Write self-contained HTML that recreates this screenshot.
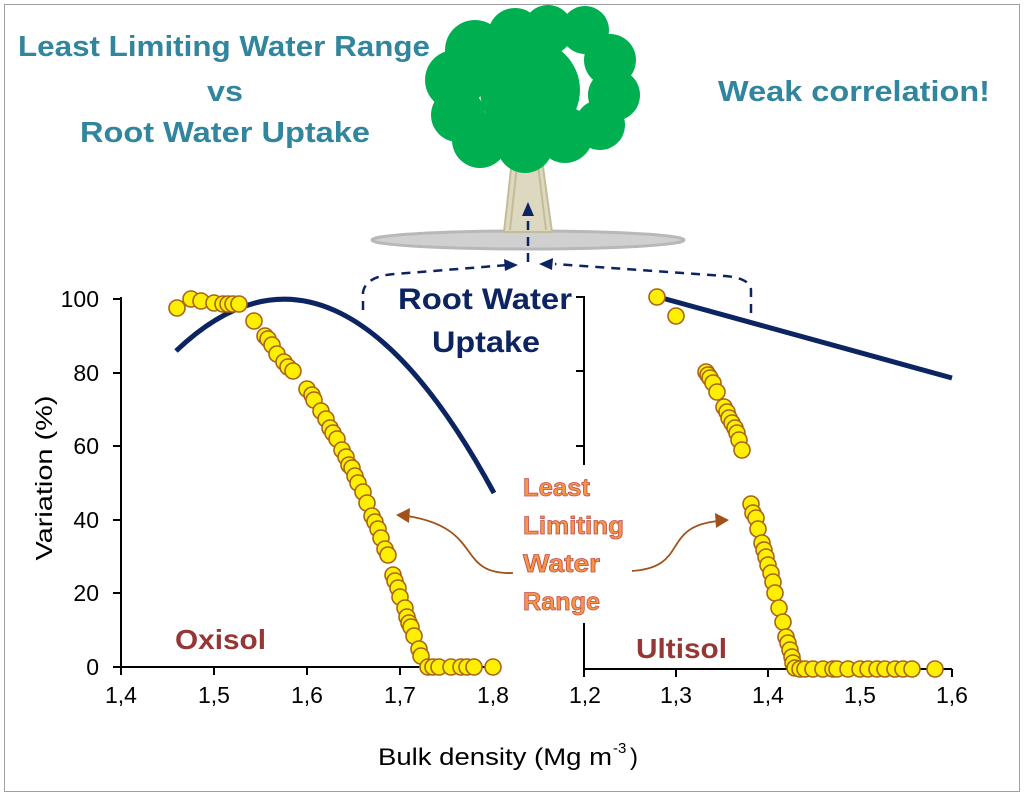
<!DOCTYPE html>
<html><head><meta charset="utf-8"><style>
html,body{margin:0;padding:0;background:#fff;}
svg{display:block;font-family:"Liberation Sans",Arial,sans-serif;}
</style></head><body>
<svg width="1024" height="796" viewBox="0 0 1024 796" xmlns="http://www.w3.org/2000/svg">
<rect x="4.5" y="4.5" width="1015" height="787" fill="#fff" stroke="#a0a0a0" stroke-width="1"/>
<!-- titles -->
<g font-weight="bold" font-size="29" fill="#31859c">
<text x="18" y="56" textLength="412" lengthAdjust="spacingAndGlyphs">Least Limiting Water Range</text>
<text x="207" y="101" textLength="36" lengthAdjust="spacingAndGlyphs">vs</text>
<text x="80" y="142" textLength="290" lengthAdjust="spacingAndGlyphs">Root Water Uptake</text>
<text x="718" y="101" textLength="272" lengthAdjust="spacingAndGlyphs">Weak correlation!</text>
</g>
<!-- ground & tree -->
<ellipse cx="528" cy="240" rx="156" ry="9" fill="#d0d0d0" stroke="#b8b8b8" stroke-width="3"/>
<polygon points="512,160 542,160 552,232 504,232" fill="#ddd8c0" stroke="#c4bc98" stroke-width="2"/>
<line x1="517" y1="165" x2="510" y2="230" stroke="#c4bc98" stroke-width="2"/>
<line x1="538" y1="165" x2="546" y2="230" stroke="#c4bc98" stroke-width="2"/>
<g fill="#00b050">
<circle cx="475" cy="50" r="30"/><circle cx="515" cy="35" r="27"/><circle cx="548" cy="30" r="25"/><circle cx="585" cy="30" r="24"/>
<circle cx="610" cy="60" r="26"/><circle cx="614" cy="95" r="26"/><circle cx="600" cy="125" r="25"/>
<circle cx="455" cy="80" r="30"/><circle cx="458" cy="115" r="27"/><circle cx="480" cy="140" r="28"/>
<circle cx="525" cy="145" r="28"/><circle cx="565" cy="135" r="28"/><circle cx="530" cy="90" r="50"/>
</g>
<!-- root water uptake arrows -->
<g stroke="#0d2463" stroke-width="2.5" fill="none" stroke-dasharray="9,7">
<path d="M528 262 L528 212"/>
<path d="M363 310 L363 292 Q366 276 395 274 L508 265"/>
<path d="M751 313 L751 290 Q750 278 725 276 L555 264"/>
</g>
<g fill="#0d2463">
<polygon points="528,202 522,216 534,216"/>
<polygon points="518,265 504,259 505,271"/>
<polygon points="539,264 553,258 552,270"/>
</g>
<g font-weight="bold" font-size="30" fill="#0d2463">
<text x="398" y="309" textLength="174" lengthAdjust="spacingAndGlyphs">Root Water</text>
<text x="432" y="352" textLength="108" lengthAdjust="spacingAndGlyphs">Uptake</text>
</g>
<!-- left axes -->
<g stroke="#000" stroke-width="2">
<line x1="121" y1="297" x2="121" y2="668"/>
<line x1="120" y1="667" x2="494" y2="667"/>
<line x1="113" y1="299" x2="121" y2="299"/><line x1="113" y1="373" x2="121" y2="373"/>
<line x1="113" y1="446" x2="121" y2="446"/><line x1="113" y1="520" x2="121" y2="520"/>
<line x1="113" y1="593" x2="121" y2="593"/><line x1="113" y1="667" x2="121" y2="667"/>
<line x1="121" y1="667" x2="121" y2="675"/><line x1="214" y1="667" x2="214" y2="675"/>
<line x1="307" y1="667" x2="307" y2="675"/><line x1="400" y1="667" x2="400" y2="675"/>
<line x1="493" y1="667" x2="493" y2="675"/>
</g>
<g font-size="23" fill="#000" text-anchor="end">
<text x="99" y="307">100</text><text x="99" y="381">80</text><text x="99" y="454">60</text>
<text x="99" y="528">40</text><text x="99" y="601">20</text><text x="99" y="675">0</text>
</g>
<g font-size="23" fill="#000" text-anchor="middle">
<text x="121" y="703">1,4</text><text x="214" y="703">1,5</text><text x="307" y="703">1,6</text>
<text x="400" y="703">1,7</text><text x="493" y="703">1,8</text>
<text x="676" y="703">1,3</text><text x="585" y="703">1,2</text><text x="768" y="703">1,4</text>
<text x="860" y="703">1,5</text><text x="952" y="703">1,6</text>
</g>
<text transform="translate(52,478) rotate(-90)" font-size="23" text-anchor="middle" textLength="165" lengthAdjust="spacingAndGlyphs">Variation (%)</text>
<text x="378" y="765" font-size="24" textLength="234" lengthAdjust="spacingAndGlyphs">Bulk density (Mg m</text>
<text x="613" y="753" font-size="15">-3</text>
<text x="630" y="765" font-size="24">)</text>
<!-- right axes -->
<g stroke="#000" stroke-width="2">
<line x1="584" y1="296" x2="584" y2="465"/>
<line x1="584" y1="623" x2="584" y2="670"/>
<line x1="583" y1="669" x2="952" y2="669"/>
<line x1="576" y1="297" x2="584" y2="297"/><line x1="576" y1="371" x2="584" y2="371"/>
<line x1="576" y1="446" x2="584" y2="446"/>
<line x1="584" y1="669" x2="584" y2="677"/><line x1="676" y1="669" x2="676" y2="677"/>
<line x1="768" y1="669" x2="768" y2="677"/><line x1="860" y1="669" x2="860" y2="677"/>
<line x1="952" y1="669" x2="952" y2="677"/>
</g>
<!-- blue curves -->
<path d="M176 351 Q334.5 199 494 493" stroke="#0d2463" stroke-width="5" fill="none"/>
<line x1="662" y1="298" x2="952" y2="378" stroke="#0d2463" stroke-width="5"/>
<!-- points -->
<g fill="#ffef00" stroke="#a86414" stroke-width="1.6">
<circle cx="177" cy="308" r="8"/><circle cx="191" cy="299" r="8"/><circle cx="201" cy="301" r="8"/><circle cx="214" cy="303" r="8"/>
<circle cx="223" cy="304" r="8"/><circle cx="228" cy="304" r="8"/><circle cx="233" cy="304" r="8"/><circle cx="239" cy="304" r="8"/>
<circle cx="254" cy="321" r="8"/><circle cx="265" cy="336" r="8"/><circle cx="268" cy="339" r="8"/><circle cx="272" cy="345" r="8"/>
<circle cx="277" cy="354" r="8"/><circle cx="284" cy="362" r="8"/><circle cx="288" cy="367" r="8"/><circle cx="293" cy="371" r="8"/>
<circle cx="307" cy="389" r="8"/><circle cx="312" cy="395" r="8"/><circle cx="314" cy="400" r="8"/><circle cx="321" cy="411" r="8"/>
<circle cx="326" cy="419" r="8"/><circle cx="330" cy="428" r="8"/><circle cx="333" cy="433" r="8"/><circle cx="337" cy="439" r="8"/>
<circle cx="342" cy="450" r="8"/><circle cx="346" cy="457" r="8"/><circle cx="349" cy="465" r="8"/><circle cx="352" cy="468" r="8"/>
<circle cx="355" cy="476" r="8"/><circle cx="358" cy="483" r="8"/><circle cx="363" cy="492" r="8"/><circle cx="367" cy="503" r="8"/>
<circle cx="372" cy="516" r="8"/><circle cx="375" cy="522" r="8"/><circle cx="378" cy="529" r="8"/><circle cx="381" cy="538" r="8"/>
<circle cx="385" cy="549" r="8"/><circle cx="388" cy="555" r="8"/><circle cx="393" cy="575" r="8"/><circle cx="395" cy="581" r="8"/>
<circle cx="398" cy="588" r="8"/><circle cx="400" cy="597" r="8"/><circle cx="405" cy="608" r="8"/><circle cx="407" cy="617" r="8"/>
<circle cx="409" cy="623" r="8"/><circle cx="411" cy="627" r="8"/><circle cx="414" cy="636" r="8"/><circle cx="419" cy="649" r="8"/>
<circle cx="421" cy="656" r="8"/><circle cx="428" cy="667" r="8"/><circle cx="433" cy="667" r="8"/><circle cx="439" cy="667" r="8"/>
<circle cx="451" cy="667" r="8"/><circle cx="461" cy="667" r="8"/><circle cx="467" cy="667" r="8"/><circle cx="474" cy="667" r="8"/>
<circle cx="493" cy="667" r="8"/>
<!-- right -->
<circle cx="657" cy="297" r="8"/><circle cx="676" cy="316" r="8"/>
<circle cx="706" cy="372" r="8"/><circle cx="708" cy="375" r="8"/><circle cx="710" cy="378" r="8"/><circle cx="713" cy="383" r="8"/>
<circle cx="717" cy="392" r="8"/><circle cx="724" cy="407" r="8"/><circle cx="727" cy="412" r="8"/><circle cx="729" cy="418" r="8"/>
<circle cx="732" cy="423" r="8"/><circle cx="735" cy="428" r="8"/><circle cx="737" cy="433" r="8"/><circle cx="739" cy="440" r="8"/>
<circle cx="742" cy="450" r="8"/>
<circle cx="751" cy="504" r="8"/><circle cx="753" cy="513" r="8"/><circle cx="756" cy="518" r="8"/><circle cx="758" cy="529" r="8"/>
<circle cx="762" cy="543" r="8"/><circle cx="764" cy="550" r="8"/><circle cx="766" cy="557" r="8"/><circle cx="768" cy="565" r="8"/>
<circle cx="771" cy="573" r="8"/><circle cx="773" cy="582" r="8"/><circle cx="775" cy="593" r="8"/><circle cx="779" cy="608" r="8"/>
<circle cx="783" cy="622" r="8"/><circle cx="786" cy="637" r="8"/><circle cx="788" cy="643" r="8"/><circle cx="790" cy="650" r="8"/>
<circle cx="792" cy="657" r="8"/><circle cx="793" cy="663" r="8"/><circle cx="795" cy="668" r="8"/>
<circle cx="800" cy="669" r="8"/><circle cx="805" cy="669" r="8"/><circle cx="813" cy="669" r="8"/><circle cx="823" cy="669" r="8"/>
<circle cx="833" cy="669" r="8"/><circle cx="837" cy="669" r="8"/><circle cx="848" cy="669" r="8"/><circle cx="860" cy="669" r="8"/>
<circle cx="868" cy="669" r="8"/><circle cx="877" cy="669" r="8"/><circle cx="885" cy="669" r="8"/><circle cx="895" cy="669" r="8"/>
<circle cx="903" cy="669" r="8"/><circle cx="912" cy="669" r="8"/><circle cx="935" cy="669" r="8"/>
</g>
<!-- LLWR label & arrows -->
<g font-weight="bold" font-size="25" fill="#f79646" stroke="#c0504d" stroke-width="0.8">
<text x="523" y="496" textLength="67" lengthAdjust="spacingAndGlyphs">Least</text>
<text x="523" y="534" textLength="101" lengthAdjust="spacingAndGlyphs">Limiting</text>
<text x="523" y="572" textLength="77" lengthAdjust="spacingAndGlyphs">Water</text>
<text x="523" y="610" textLength="77" lengthAdjust="spacingAndGlyphs">Range</text>
</g>
<g stroke="#a0521a" stroke-width="1.8" fill="none">
<path d="M513 573 C455 575 485 528 407 516"/>
<path d="M632 571 C690 567 660 527 718 521"/>
</g>
<g fill="#a0521a">
<polygon points="396,515 410,508 409,523"/>
<polygon points="729,520 715,513 716,528"/>
</g>
<g font-weight="bold" font-size="28" fill="#953735">
<text x="175" y="649" textLength="91" lengthAdjust="spacingAndGlyphs">Oxisol</text>
<text x="636" y="658" textLength="91" lengthAdjust="spacingAndGlyphs">Ultisol</text>
</g>
</svg>
</body></html>
